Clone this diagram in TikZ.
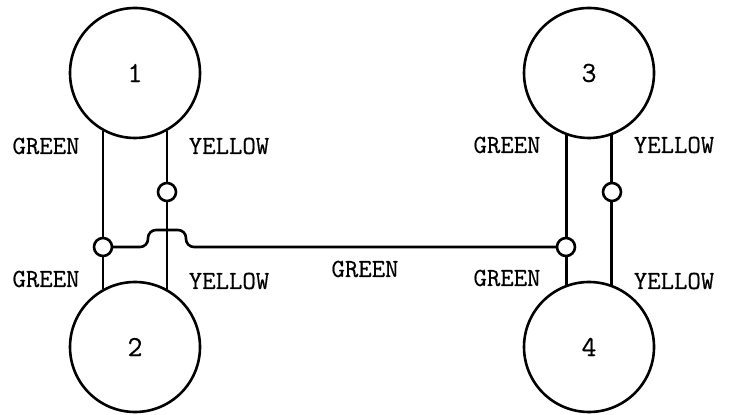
\documentclass[tikz,border=0pt]{standalone}
\usepackage{fontspec}
\setmonofont[RawFeature={embolden=0.5}]{Latin Modern Mono}
\usetikzlibrary{calc}
\begin{document}
\begin{tikzpicture}[x=0.5pt,y=-0.5pt,line width=1.3pt,
    wheel/.style={draw,circle,minimum size=65pt,inner sep=0pt,
      font=\ttfamily\fontsize{14.5}{16}\selectfont},
    joint/.style={draw,circle,fill=white,minimum size=9pt,inner sep=0pt},
    wire/.style={font=\ttfamily\fontsize{13}{15}\selectfont}]
      \useasboundingbox (0,0) rectangle (731,415);
      \draw
        (135,73) node[wheel] (1){1}
        (135,347) node[wheel] (2){2}
        (589,73) node[wheel] (3){3}
        (589,347) node[wheel] (4){4};
      \begin{scope}[-]
        \draw (1.-119) to (2.119);
        \draw (1.-61) to (2.61);
        \draw (3.-110) to (4.110);
        \draw (3.-70) to (4.70);
        \coordinate (hop) at (167,247);
        \draw[rounded corners=4pt] (103,247) -- ($(hop)+(-19,0)$) -- ++(0,-17)
          -- ++(38,0) -- ++(0,17) -- (566,247);
      \end{scope}
      \draw
        (103,247) node[joint] (g1){}
        (167,192) node[joint] (y1){}
        (566,247) node[joint] (g2){}
        (612,192) node[joint] (y2){};
      \draw
        (46,146) node[wire] (g1a){GREEN}
        (229,146) node[wire] (y1a){YELLOW}
        (46,279) node[wire] (g1b){GREEN}
        (229,281) node[wire] (y1b){YELLOW}
        (365,269) node[wire] (g12){GREEN}
        (507,145) node[wire] (g2a){GREEN}
        (674,145) node[wire] (y2a){YELLOW}
        (507,278) node[wire] (g2b){GREEN}
        (674,281) node[wire] (y2b){YELLOW};
    \end{tikzpicture}
\end{document}
